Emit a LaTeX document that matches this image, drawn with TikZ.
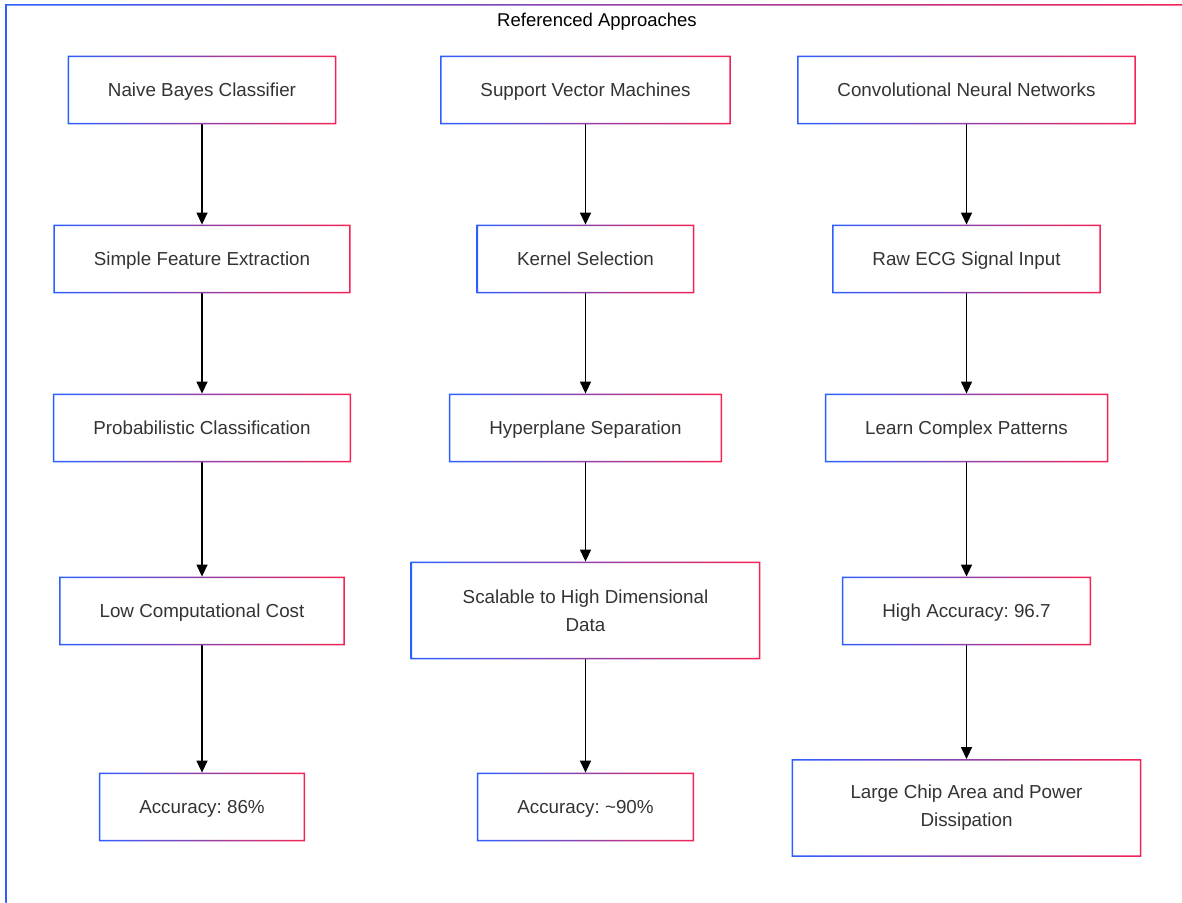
\documentclass[tikz,border=0pt]{standalone}
\usepackage{fontspec}
\setmainfont{Liberation Sans}
\frenchspacing
\usetikzlibrary{arrows.meta}
\definecolor{edgeblue}{RGB}{45,95,255}
\definecolor{edgered}{RGB}{245,35,85}
\definecolor{boxtext}{RGB}{51,51,51}

\begin{document}
\begin{tikzpicture}
  [x=0.5pt,y=-0.5pt,
    basebox/.style={rectangle, minimum height=34pt, inner xsep=20pt, text=boxtext,
      font=\fontsize{9.4}{14}\selectfont, align=center},
    box/.style={basebox, text height=8.6pt, text depth=2pt},
    tallbox/.style={basebox, minimum width=174.5pt, minimum height=48.5pt},
    arr/.style={-{Triangle[width=5.5pt,length=6pt]}, line width=0.7pt}]
  \useasboundingbox (0,0) rectangle (1182,903);
  % outer frame
  \begin{scope}
    \clip (0,0) rectangle (1182,903);
    \shade[left color=edgeblue, right color=edgered, even odd rule]
      (5.25,4.25) rectangle (1200,920) (6.75,5.75) rectangle (1198.5,918.5);
  \end{scope}
  \node (title) at (597,20.5) [font=\fontsize{9.25}{12}\selectfont, text height=8.4pt, text depth=2pt] {Referenced Approaches};

  % naive bayes
  \node (nb)   at (202,90)  [box] {Naive Bayes Classifier};
  \node (sfe)  at (202,259) [box] {Simple Feature Extraction};
  \node (pc)   at (202,428) [box] {Probabilistic Classification};
  \node (lcc)  at (202,611) [box] {Low Computational Cost};
  \node (acc1) at (202,807) [box] {Accuracy: 86\%};

  % svm
  \node (svm)  at (585.5,90)    [box] {Support Vector Machines};
  \node (ks)   at (585.5,259)   [box] {Kernel Selection};
  \node (hs)   at (585.5,428)   [box] {Hyperplane Separation};
  \node (shd)  at (585.5,610.5) [tallbox] {Scalable to High Dimensional\\Data};
  \node (acc2) at (585.5,807)   [box] {Accuracy: \textasciitilde90\%};

  % cnn
  \node (cnn)  at (966.5,90)  [box] {Convolutional Neural Networks};
  \node (ecg)  at (966.5,259) [box] {Raw ECG Signal Input};
  \node (lcp)  at (966.5,428) [box] {Learn Complex Patterns};
  \node (ha)   at (966.5,611) [box] {High Accuracy: 96.7};
  \node (lca)  at (966.5,808) [tallbox] {Large Chip Area and Power\\Dissipation};

  \foreach \a/\b in {nb/sfe, sfe/pc, pc/lcc, lcc/acc1,
                     svm/ks, ks/hs, hs/shd, shd/acc2,
                     cnn/ecg, ecg/lcp, lcp/ha, ha/lca}
    \draw[arr] (\a) -- (\b);

  % gradient borders
  \foreach \n in {nb,sfe,pc,lcc,acc1,svm,ks,hs,shd,acc2,cnn,ecg,lcp,ha,lca}
    \shade[left color=edgeblue, right color=edgered, even odd rule]
      (\n.south west) rectangle (\n.north east)
      ([shift={(0.75pt,0.75pt)}]\n.south west) rectangle ([shift={(-0.75pt,-0.75pt)}]\n.north east);
\end{tikzpicture}
\end{document}
